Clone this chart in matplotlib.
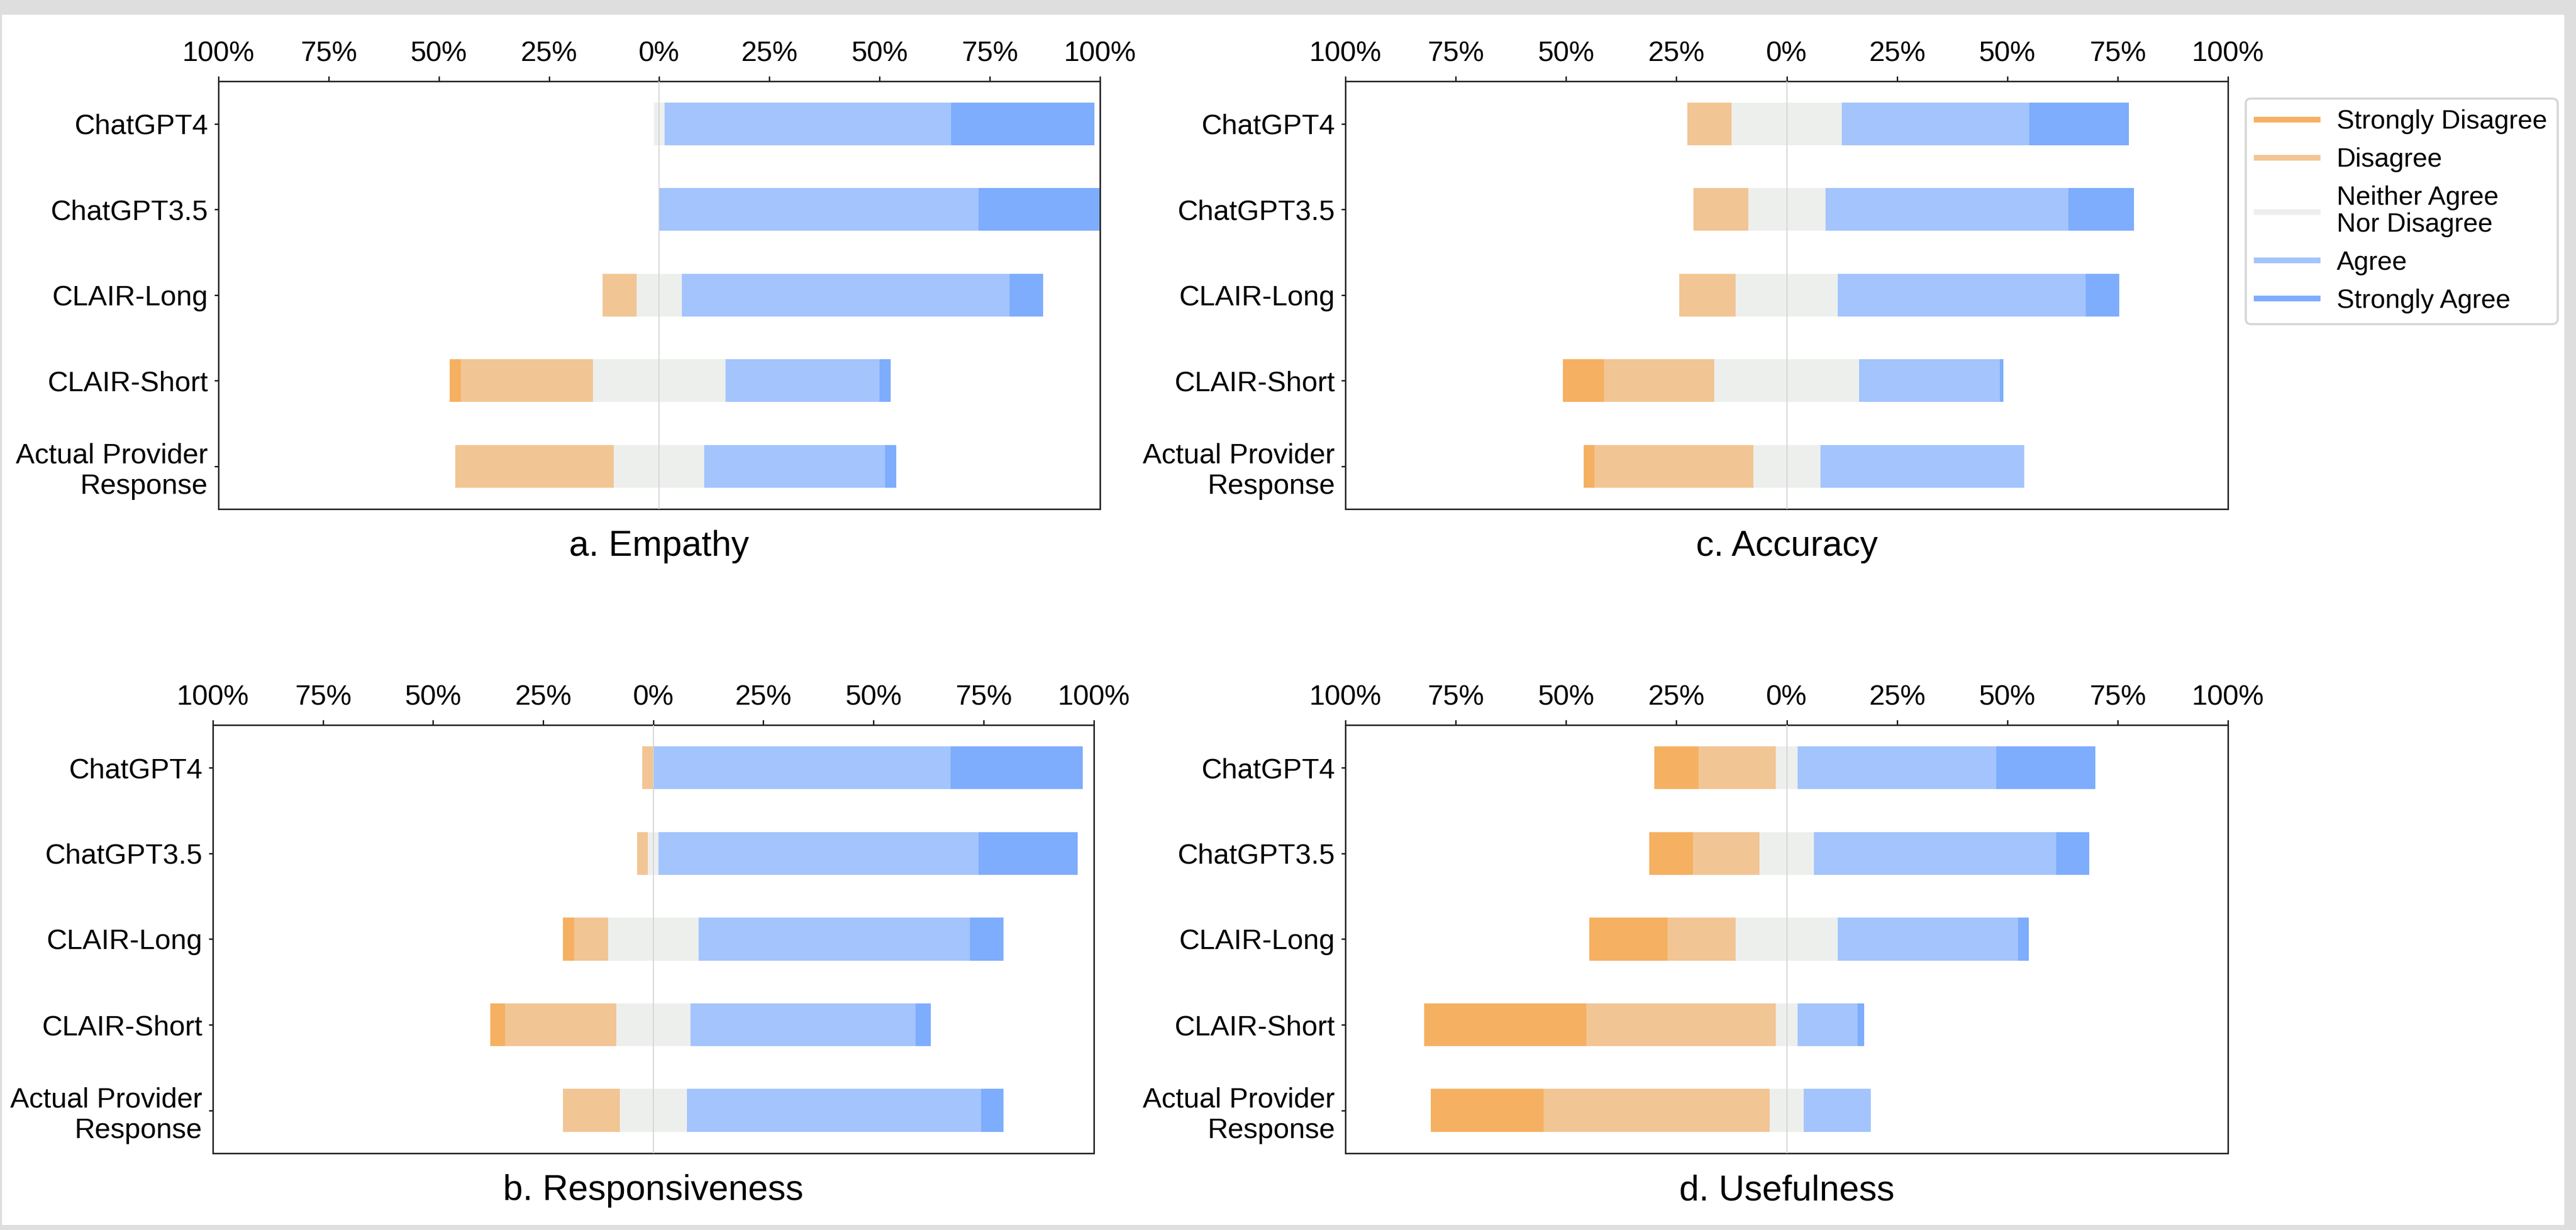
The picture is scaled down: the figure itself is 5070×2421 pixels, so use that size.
import matplotlib
matplotlib.use('Agg')
import matplotlib.pyplot as plt
from matplotlib.lines import Line2D
from matplotlib.patches import Rectangle

plt.rcParams['font.family'] = ['Liberation Sans', 'DejaVu Sans']

#  Categories (top to bottom)
models = ['ChatGPT4', 'ChatGPT3.5', 'CLAIR-Long', 'CLAIR-Short', 'Actual Provider\nResponse']

#  Response levels
levels = ['Strongly Disagree', 'Disagree', 'Neither Agree\nNor Disagree', 'Agree', 'Strongly Agree']
colors = ['#F5B062', '#F2C594', '#EDEFED', '#A3C4FC', '#7DADFC']

#  Percent per model: [strongly disagree, disagree, neither, agree, strongly agree]
empathy = [[0, 0, 2.5, 65.0, 32.5],
           [0, 0, 0, 72.5, 27.5],
           [0, 7.8, 10.2, 74.4, 7.6],
           [2.5, 30.0, 30.0, 35.0, 2.5],
           [0, 36.0, 20.5, 41.0, 2.5]]

responsiveness = [[0, 2.5, 0, 67.5, 30.0],
                  [0, 2.5, 2.4, 72.6, 22.5],
                  [2.5, 7.7, 20.5, 61.6, 7.6],
                  [3.4, 25.2, 16.8, 51.2, 3.4],
                  [0, 12.9, 15.2, 66.8, 5.1]]

accuracy = [[0, 10.0, 25.0, 42.5, 22.5],
            [0, 12.4, 17.5, 55.1, 14.8],
            [0, 12.8, 23.2, 56.1, 7.7],
            [9.3, 25.0, 32.8, 31.9, 0.8],
            [2.4, 36.0, 15.2, 46.2, 0]]

usefulness = [[10.0, 17.5, 5.0, 45.0, 22.5],
              [10.0, 15.0, 12.4, 54.9, 7.5],
              [17.7, 15.4, 23.2, 40.8, 2.5],
              [36.8, 42.9, 5.0, 13.5, 1.6],
              [25.6, 51.2, 7.8, 15.2, 0]]

ticks = [-100, -75, -50, -25, 0, 25, 50, 75, 100]


#   Draw one diverging stacked bar panel
def Plot_Panel(ax, data, title):

    for row, values in enumerate(data):

        #  Start left of zero by the negative half
        left = -(values[0] + values[1] + values[2] / 2.0)

        for k in range(len(values)):
            if values[k] > 0:
                ax.barh(row, values[k], left=left, height=0.5, color=colors[k], zorder=2)
            left += values[k]

    #  Zero line
    ax.axvline(0, color='#d4d4d4', lw=0.5, zorder=3)

    #  Configure axes
    ax.set_xlim(-100, 100)
    ax.set_ylim(len(models) - 0.5, -0.5)
    ax.set_yticks(range(len(models)))
    ax.set_yticklabels(models, fontsize=13.4)
    ax.set_xticks(ticks)
    ax.set_xticklabels(['%d%%' % abs(t) for t in ticks], fontsize=13.4)
    ax.xaxis.tick_top()
    ax.tick_params(axis='x', length=2.5, width=0.6, pad=4)
    ax.tick_params(axis='y', length=2.0, width=0.6, pad=3)
    for s in ax.spines.values():
        s.set_linewidth(0.7)
        s.set_color('#222222')

    ax.text(0.5, -0.088, title, transform=ax.transAxes, ha='center', va='center', fontsize=16.8)


if __name__ == '__main__':

    fig = plt.figure(figsize=(16.9, 8.07), dpi=300)
    fig.patch.set_facecolor('#dedede')

    #  White page inside the gray frame
    fig.patches.append(Rectangle((4 / 5070.0, 10 / 2421.0), (5047 - 4) / 5070.0, (2392 - 10) / 2421.0,
                                 transform=fig.transFigure, facecolor='white', edgecolor='none', zorder=-10))

    ax_a = fig.add_axes([0.0848, 0.5862, 0.3422, 0.3478])
    ax_c = fig.add_axes([0.5223, 0.5862, 0.3426, 0.3478])
    ax_b = fig.add_axes([0.0826, 0.0624, 0.3420, 0.3482])
    ax_d = fig.add_axes([0.5223, 0.0624, 0.3426, 0.3482])

    Plot_Panel(ax_a, empathy, 'a. Empathy')
    Plot_Panel(ax_c, accuracy, 'c. Accuracy')
    Plot_Panel(ax_b, responsiveness, 'b. Responsiveness')
    Plot_Panel(ax_d, usefulness, 'd. Usefulness')

    #  Legend with line handles
    handles = [Line2D([0], [0], color=c, lw=2.7) for c in colors]
    leg = fig.legend(handles, levels, loc='upper left', bbox_to_anchor=(0.8718, 0.9199),
                     fontsize=12.5, frameon=True, fancybox=True, edgecolor='#cccccc',
                     handlelength=2.3, handletextpad=0.73, labelspacing=0.5,
                     borderpad=0.4, borderaxespad=0)
    for t in leg.get_texts():
        t.set_linespacing(1.1)

    fig.savefig('out.png', dpi=300, facecolor=fig.get_facecolor())
